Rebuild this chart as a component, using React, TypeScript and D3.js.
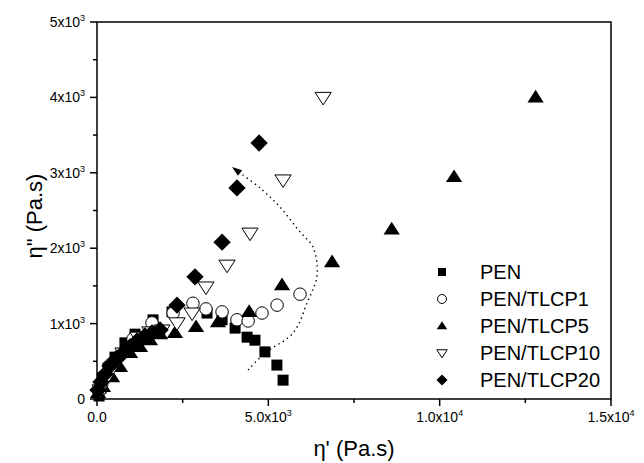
import React from "react";
import * as d3 from "d3";

const pen: [number, number][] = [[60,40],[120,145],[200,280],[320,410],[525,555],[815,745],[1110,860],[1635,1050],[2190,1155],[3210,1140],[3650,1050],[4030,940],[4380,820],[4610,780],[4900,625],[5250,450],[5430,250]];
const tlcp1: [number, number][] = [[90,120],[205,290],[380,450],[615,555],[1050,795],[1605,1010],[2220,1140],[2800,1270],[3180,1195],[3650,1155],[4085,1050],[4410,1035],[4815,1140],[5255,1245],[5925,1390]];
const tlcp5: [number, number][] = [[30,80],[175,160],[440,290],[670,425],[965,610],[1255,690],[1545,780],[1840,860],[2275,875],[2890,955],[3530,1020],[4440,1155],[5400,1510],[6860,1815],[8600,2250],[10420,2945],[12800,4000]];
const tlcp10: [number, number][] = [[90,120],[235,250],[465,425],[760,610],[1195,820],[1545,890],[1895,915],[2335,1010],[2775,1140],[3180,1485],[3795,1775],[4465,2200],[5430,2905],[6600,4000]];
const tlcp20: [number, number][] = [[30,120],[115,225],[235,330],[380,440],[555,530],[760,610],[965,690],[1170,770],[1400,835],[1605,875],[1840,915],[2335,1245],[2860,1620],[3650,2080],[4085,2800],[4730,3395]];
const arrowPath: [number, number][] = [[4410,385],[4904,610],[5720,875],[6130,1273],[6420,1640],[6305,2015],[5925,2215],[5340,2546],[4758,2798],[4175,2997],[3940,3076]];

const seriesNames = ["PEN", "PEN/TLCP1", "PEN/TLCP5", "PEN/TLCP10", "PEN/TLCP20"];
const xTicks = [0, 5000, 10000, 15000];
const xTickLabels: [string, string][] = [["0.0", ""], ["5.0x10", "3"], ["1.0x10", "4"], ["1.5x10", "4"]];
const yTicks = [0, 1000, 2000, 3000, 4000, 5000];
const yTickLabels: [string, string][] = [["0", ""], ["1x10", "3"], ["2x10", "3"], ["3x10", "3"], ["4x10", "3"], ["5x10", "3"]];

const W = 644, H = 463;
const L = 97, R = 611, T = 22, B = 399;

function Marker({ kind, x, y, s }: { kind: number; x: number; y: number; s: number }) {
  if (kind === 0) return <rect x={x - s / 2} y={y - s / 2} width={s} height={s} fill="#000" />;
  if (kind === 1) return <circle cx={x} cy={y} r={s / 2} fill="#fff" stroke="#000" strokeWidth={1} />;
  if (kind === 2) {
    const h = s * 0.9;
    return <path d={`M${x},${y - h * 0.6}L${x + s * 0.58},${y + h * 0.4}L${x - s * 0.58},${y + h * 0.4}Z`} fill="#000" />;
  }
  if (kind === 3) {
    const h = s * 0.9;
    return <path d={`M${x},${y + h * 0.6}L${x + s * 0.58},${y - h * 0.4}L${x - s * 0.58},${y - h * 0.4}Z`} fill="#fff" stroke="#000" strokeWidth={1} />;
  }
  const r = s * 0.62;
  return <path d={`M${x},${y - r}L${x + r},${y}L${x},${y + r}L${x - r},${y}Z`} fill="#000" />;
}

export default function App() {
  const x = d3.scaleLinear().domain([0, 15000]).range([L, R]);
  const y = d3.scaleLinear().domain([0, 5000]).range([B, T]);
  const all = [pen, tlcp1, tlcp5, tlcp10, tlcp20];
  const sizes = [11, 12.5, 14, 14, 14];
  const line = d3.line<[number, number]>().x(d => x(d[0])).y(d => y(d[1])).curve(d3.curveCatmullRom);
  const ap = arrowPath.slice(0, -1);
  const tip = arrowPath[arrowPath.length - 1];
  const prev = arrowPath[arrowPath.length - 2];
  const tx = x(tip[0]), ty = y(tip[1]);
  const dx = tx - x(prev[0]), dy = ty - y(prev[1]);
  const len = Math.hypot(dx, dy);
  const ux = dx / len, uy = dy / len;
  const hl = 10, hw = 3.5;
  const bx = tx - ux * hl, by = ty - uy * hl;
  const head = `M${tx},${ty}L${bx - uy * hw},${by + ux * hw}L${bx + uy * hw},${by - ux * hw}Z`;
  const font = "'Liberation Sans', Arial, sans-serif";
  const xMinor = d3.range(0, 15001, 2500);
  const yMinor = d3.range(0, 5001, 500);
  return (
    <svg width={W} height={H} style={{ position: "absolute", left: 0, top: 0, background: "#fff" }} fontFamily={font}>
      <rect x={0} y={0} width={W} height={H} fill="#fff" />
      <path d={(line(ap) || "") + `L${bx},${by}`} fill="none" stroke="#000" strokeWidth={1.4} strokeDasharray="1.4 3.6" />
      <path d={head} fill="#000" />
      {all.map((s, i) => (
        <g key={i}>
          {s.map((d, j) => <Marker key={j} kind={i} x={x(d[0])} y={y(d[1])} s={sizes[i]} />)}
        </g>
      ))}
      <rect x={L} y={T} width={R - L} height={B - T} fill="none" stroke="#000" strokeWidth={1.5} />
      {xMinor.map((v, i) => {
        const major = v % 5000 === 0;
        return <line key={i} x1={x(v)} x2={x(v)} y1={B} y2={B + (major ? 7 : 4)} stroke="#000" strokeWidth={1.5} />;
      })}
      {yMinor.map((v, i) => {
        const major = v % 1000 === 0;
        return <line key={i} x1={L} x2={L - (major ? 7 : 4)} y1={y(v)} y2={y(v)} stroke="#000" strokeWidth={1.5} />;
      })}
      {xTicks.map((v, i) => (
        <text key={i} x={x(v)} y={B + 23} fontSize={14} textAnchor="middle">
          {xTickLabels[i][0]}
          {xTickLabels[i][1] && <tspan fontSize={9} dy={-6}>{xTickLabels[i][1]}</tspan>}
        </text>
      ))}
      {yTicks.map((v, i) => (
        <text key={i} x={L - 12} y={y(v) + 5} fontSize={14} textAnchor="end">
          {yTickLabels[i][0]}
          {yTickLabels[i][1] && <tspan fontSize={9} dy={-6}>{yTickLabels[i][1]}</tspan>}
        </text>
      ))}
      <text x={(L + R) / 2} y={456} fontSize={22} textAnchor="middle">η' (Pa.s)</text>
      <text transform={`translate(42,216) rotate(-90)`} fontSize={22} textAnchor="middle">η" (Pa.s)</text>
      {seriesNames.map((n, i) => (
        <g key={n}>
          <Marker kind={i} x={442} y={272 + i * 27} s={i === 0 ? 8 : 9} />
          <text x={480} y={272 + i * 27 + 7} fontSize={20}>{n}</text>
        </g>
      ))}
    </svg>
  );
}
